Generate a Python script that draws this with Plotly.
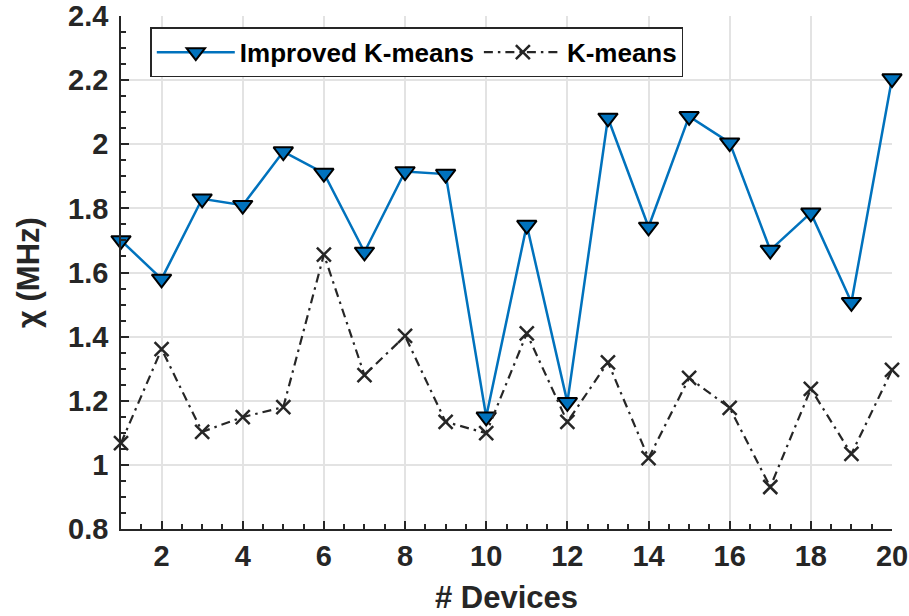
import plotly.graph_objects as go

devices = list(range(1, 21))
improved_kmeans = [1.70, 1.58, 1.83, 1.81, 1.977, 1.91, 1.664, 1.915, 1.907, 1.15,
                   1.748, 1.195, 2.082, 1.742, 2.087, 2.005, 1.670, 1.786, 1.507, 2.205]
kmeans = [1.068, 1.361, 1.103, 1.149, 1.180, 1.656, 1.280, 1.402, 1.134, 1.099,
          1.410, 1.134, 1.320, 1.021, 1.271, 1.178, 0.931, 1.237, 1.034, 1.296]

x_tickvals = [2, 4, 6, 8, 10, 12, 14, 16, 18, 20]
y_tickvals = [0.8, 1.0, 1.2, 1.4, 1.6, 1.8, 2.0, 2.2, 2.4]
y_ticktext = ["0.8", "1", "1.2", "1.4", "1.6", "1.8", "2", "2.2", "2.4"]

FONT = "Liberation Sans, Arial, sans-serif"
AX = "#262626"
GRID = "#e3e3e3"

fig = go.Figure()
fig.add_trace(go.Scatter(
    x=devices, y=improved_kmeans, name="<b>Improved K-means</b>",
    mode="lines+markers", cliponaxis=False,
    line=dict(color="#0072BD", width=2.5),
    marker=dict(symbol="triangle-down", size=17, color="#0072BD",
                line=dict(color="black", width=2)),
))
fig.add_trace(go.Scatter(
    x=devices, y=kmeans, name="<b>K-means</b>",
    mode="lines+markers", cliponaxis=False,
    line=dict(color=AX, width=2.2, dash="9px,5px,2.5px,5px"),
    marker=dict(symbol="x-thin", size=14, color=AX,
                line=dict(color=AX, width=2.5)),
))

fig.update_layout(
    width=909, height=616,
    margin=dict(l=121, r=17, t=16, b=87, autoexpand=False),
    paper_bgcolor="white", plot_bgcolor="white",
    font=dict(family=FONT, color=AX, size=29),
    showlegend=True,
    legend=dict(
        orientation="h", x=0.038, y=0.978, xanchor="left", yanchor="top",
        bgcolor="white", bordercolor=AX, borderwidth=1.5,
        font=dict(family=FONT, size=26, color="black"),
        itemwidth=78,
    ),
    xaxis=dict(
        range=[1, 20], tickvals=x_tickvals,
        showgrid=True, gridcolor=GRID, gridwidth=1.5,
        showline=True, linecolor=AX, linewidth=1.5, mirror=False,
        ticks="inside", ticklen=8, tickwidth=1.5, tickcolor=AX,
        minor=dict(dtick=0.5, tick0=1, ticks="inside", ticklen=5, tickwidth=1.5,
                   tickcolor=AX, showgrid=False),
        tickfont=dict(family=FONT, size=29, color=AX, weight="bold"),
        zeroline=False, automargin=False,
        title=dict(text="<b># Devices</b>", font=dict(family=FONT, size=31, color=AX),
                   standoff=16),
    ),
    yaxis=dict(
        range=[0.8, 2.4], tickvals=y_tickvals, ticktext=y_ticktext,
        showgrid=True, gridcolor=GRID, gridwidth=1.5,
        showline=True, linecolor=AX, linewidth=1.5, mirror=False,
        ticks="inside", ticklen=8, tickwidth=1.5, tickcolor=AX,
        minor=dict(dtick=0.05, tick0=0.8, ticks="inside", ticklen=5, tickwidth=1.5,
                   tickcolor=AX, showgrid=False),
        tickfont=dict(family=FONT, size=29, color=AX, weight="bold"),
        ticklabelstandoff=5,
        zeroline=False, automargin=False,
        title=dict(text="<b>χ (MHz)</b>", font=dict(family=FONT, size=31, color=AX),
                   standoff=19),
    ),
)

fig.write_html("out.html")
